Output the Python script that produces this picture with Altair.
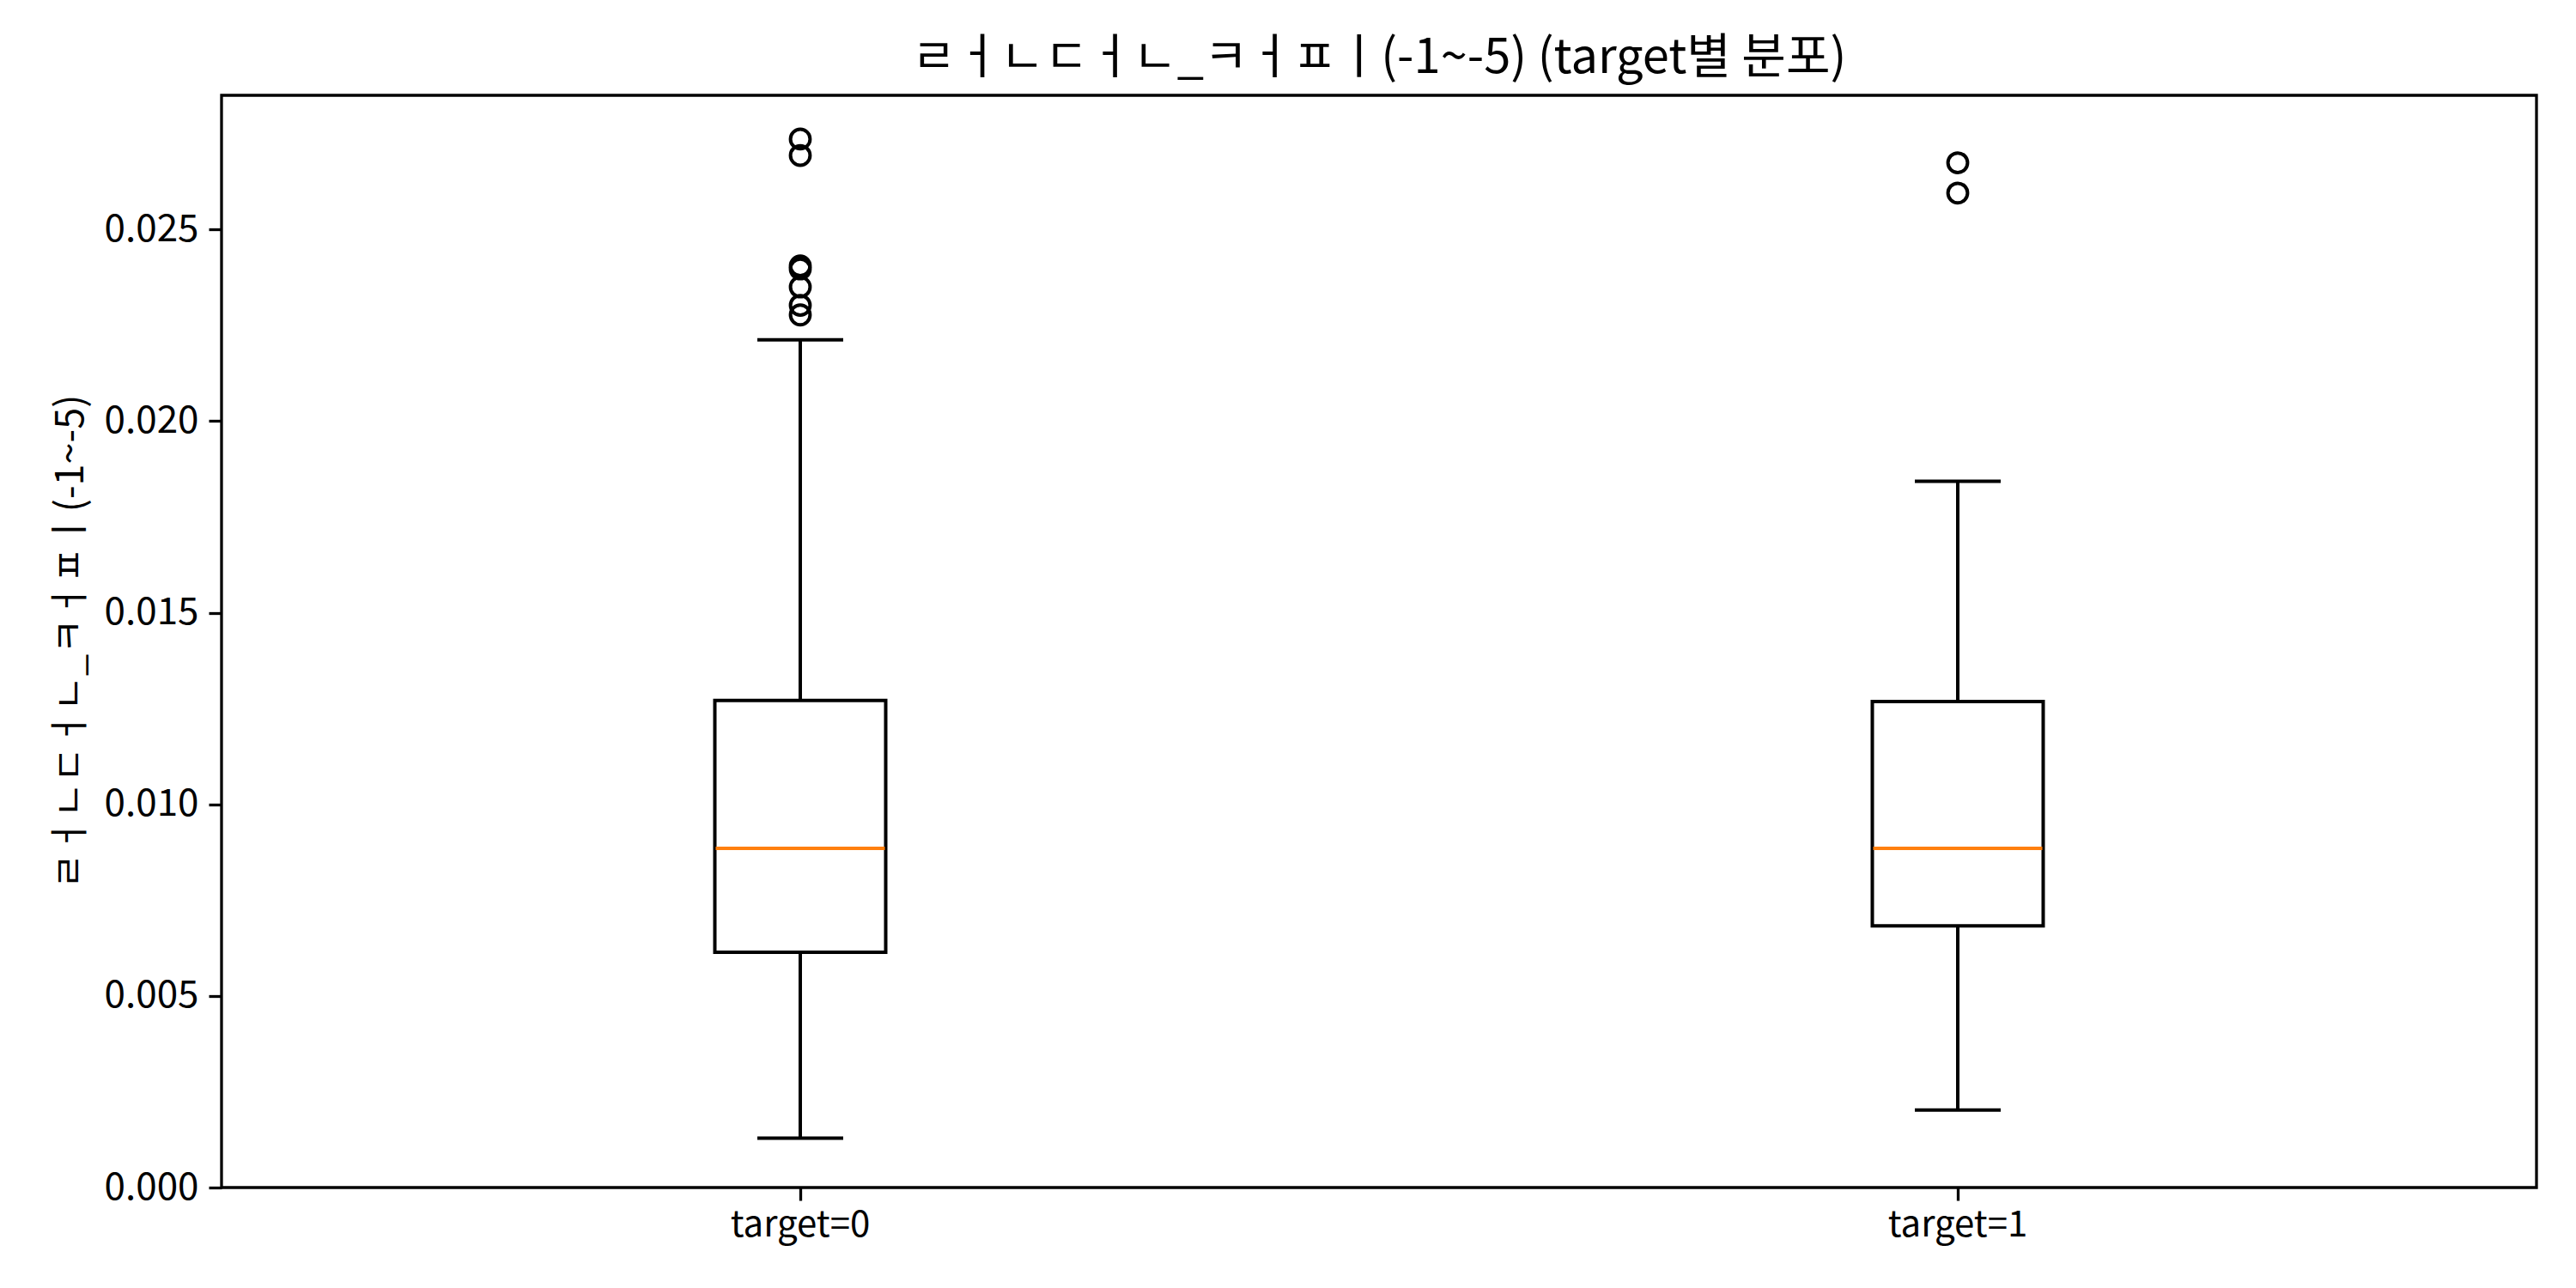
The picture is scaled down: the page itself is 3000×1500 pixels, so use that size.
import altair as alt
import pandas as pd

FONT = "Noto Sans CJK KR"

categories = ["target=0", "target=1"]
q1 = [0.00614, 0.00683]
median = [0.00885, 0.00885]
q3 = [0.01271, 0.01268]
whisker_low = [0.00129, 0.00202]
whisker_high = [0.02212, 0.01843]

outlier_cat = ["target=0"] * 7 + ["target=1"] * 2
outlier_val = [0.02736, 0.02693, 0.02405, 0.02397, 0.02350, 0.02302, 0.02277,
               0.02674, 0.02595]

summary = pd.DataFrame({
    "cat": categories, "q1": q1, "med": median, "q3": q3,
    "lo": whisker_low, "hi": whisker_high,
})
outliers = pd.DataFrame({"cat": outlier_cat, "val": outlier_val})

title_text = "ㄹㅓㄴㄷㅓㄴ_ㅋㅓㅍㅣ(-1~-5) (target별 분포)"
ylab = "ㄹㅓㄴㄷㅓㄴ_ㅋㅓㅍㅣ(-1~-5)"

xenc = alt.X("cat:N", sort=categories,
             scale=alt.Scale(paddingInner=0, paddingOuter=0),
             axis=alt.Axis(title=None, labelAngle=0, labelFontSize=42, labelFont=FONT,
                           labelColor="black", tickColor="black", tickSize=15,
                           tickWidth=3.3, domain=False, labelPadding=8))
yscale = alt.Scale(domain=[0, 0.0285], nice=False, zero=False)
yaxis = alt.Axis(title=ylab, values=[0, 0.005, 0.01, 0.015, 0.02, 0.025], format=".3f",
                 grid=False, labelFontSize=44, labelFont=FONT, labelColor="black",
                 tickColor="black", tickSize=15, tickWidth=3.3, domain=False,
                 titleFont=FONT, titleFontSize=45, titleFontWeight="normal",
                 titleColor="black", titlePadding=16, labelPadding=12)

base_s = alt.Chart(summary)

whisk_low = base_s.mark_rule(color="black", strokeWidth=4).encode(
    x=xenc, y=alt.Y("lo:Q", scale=yscale, axis=yaxis), y2="q1:Q")
whisk_high = base_s.mark_rule(color="black", strokeWidth=4).encode(
    x=xenc, y=alt.Y("q3:Q", scale=yscale, axis=yaxis), y2="hi:Q")
box = base_s.mark_bar(size=199, fill="white", stroke="black", strokeWidth=4,
                      opacity=1).encode(
    x=xenc, y=alt.Y("q1:Q", scale=yscale, axis=yaxis), y2="q3:Q")
med = base_s.mark_tick(color="#ff7f0e", size=197, thickness=4, opacity=1).encode(
    x=xenc, y=alt.Y("med:Q", scale=yscale, axis=yaxis))
cap_lo = base_s.mark_tick(color="black", size=100, thickness=4, opacity=1).encode(
    x=xenc, y=alt.Y("lo:Q", scale=yscale, axis=yaxis))
cap_hi = base_s.mark_tick(color="black", size=100, thickness=4, opacity=1).encode(
    x=xenc, y=alt.Y("hi:Q", scale=yscale, axis=yaxis))
pts = alt.Chart(outliers).mark_point(shape="circle", filled=False, color="black",
                                     size=520, strokeWidth=4, opacity=1).encode(
    x=xenc, y=alt.Y("val:Q", scale=yscale, axis=yaxis))

chart = alt.layer(whisk_low, whisk_high, box, med, cap_lo, cap_hi, pts).properties(
    width=2696, height=1272,
    background="white",
    title=alt.TitleParams(title_text, font=FONT, fontSize=56, fontWeight="normal",
                          color="black", anchor="middle", offset=14),
    autosize=alt.AutoSizeParams(type="none"),
    padding={"left": 258, "top": 111, "right": 46, "bottom": 117},
).configure_view(stroke="black", strokeWidth=3.3)

chart.save("out.html", embed_options={"renderer": "svg", "actions": False})
